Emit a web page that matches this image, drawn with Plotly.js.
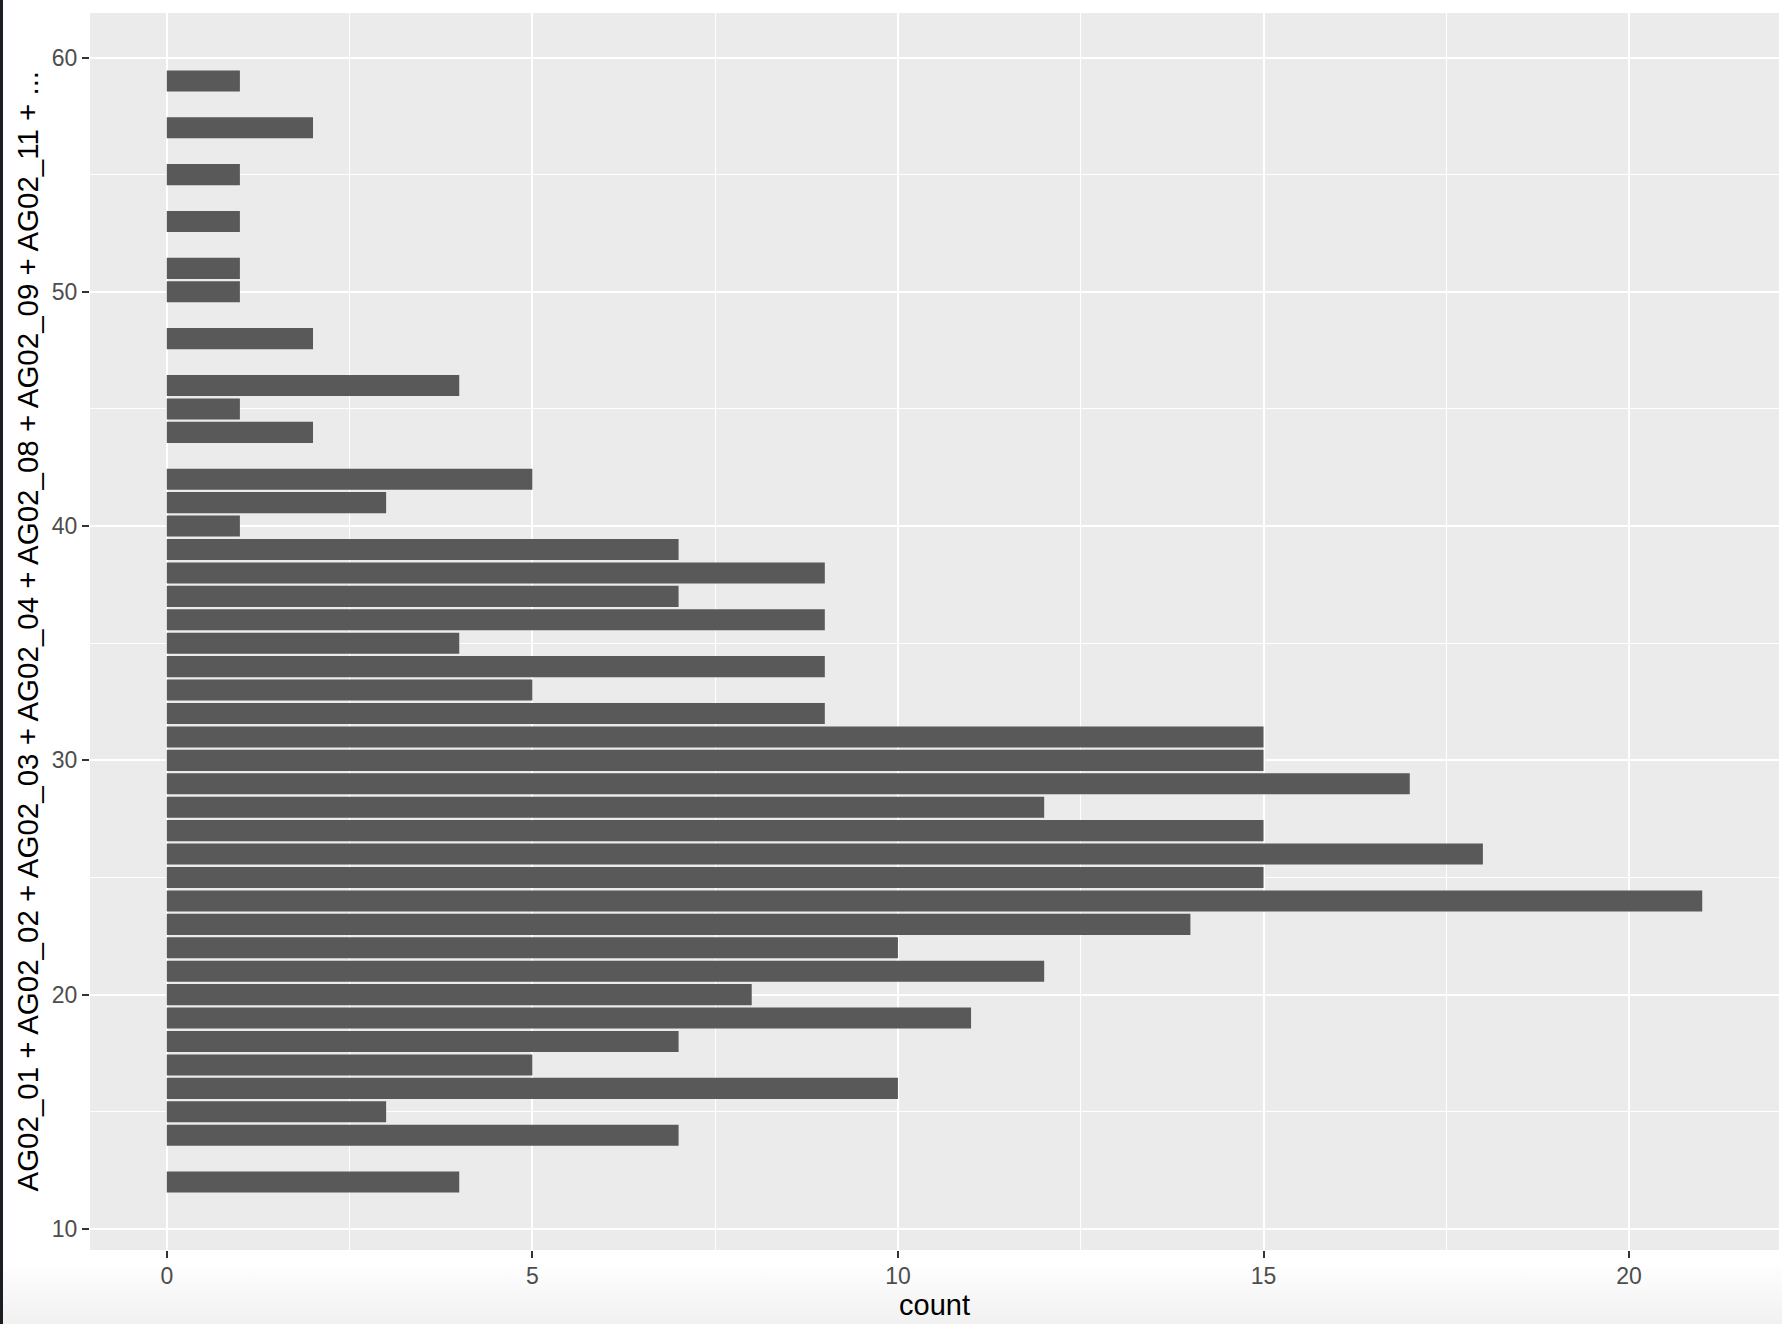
<!DOCTYPE html>
<html>
<head>
<meta charset="utf-8">
<script src="https://cdn.plot.ly/plotly-3.0.1.min.js"></script>
<style>
  html, body { margin: 0; padding: 0; }
  body {
    width: 1782px; height: 1324px; overflow: hidden;
    background: linear-gradient(to bottom, #ffffff 0px, #ffffff 1262px, #f1f1f1 1324px);
    position: relative;
  }
  #edge { position: absolute; left: 0; top: 0; width: 3px; height: 1324px; background: #1b1f24; }
  #chart { position: absolute; left: 0; top: 0; width: 1782px; height: 1324px; }
</style>
</head>
<body>
<div id="chart"></div>
<div id="edge"></div>
<script>
// Scores (y categories) and their counts
const scores = [12, 14, 15, 16, 17, 18, 19, 20, 21, 22, 23, 24, 25, 26, 27, 28, 29, 30, 31,
                32, 33, 34, 35, 36, 37, 38, 39, 40, 41, 42, 44, 45, 46, 48, 50, 51, 53, 55, 57, 59];
const counts = [4, 7, 3, 10, 5, 7, 11, 8, 12, 10, 14, 21, 15, 18, 15, 12, 17, 15, 15,
                9, 5, 9, 4, 9, 7, 9, 7, 1, 3, 5, 2, 1, 4, 2, 1, 1, 1, 1, 2, 1];
const xTicks = [0, 5, 10, 15, 20];
const yTicks = [10, 20, 30, 40, 50, 60];
const xTitle = "count";
const yTitle = "AG02_01 + AG02_02 + AG02_03 + AG02_04 + AG02_08 + AG02_09 + AG02_11 + ...";

const font = "Liberation Sans, Arial, Helvetica, sans-serif";

const trace = {
  type: "bar",
  orientation: "h",
  x: counts,
  y: scores,
  width: 0.9,
  marker: { color: "#595959", line: { width: 0 } },
  hoverinfo: "x+y"
};

const layout = {
  width: 1782,
  height: 1324,
  margin: { l: 90, r: 3, t: 13, b: 74, pad: 0 },
  paper_bgcolor: "rgba(0,0,0,0)",
  plot_bgcolor: "#EBEBEB",
  showlegend: false,
  font: { family: font },
  xaxis: {
    range: [-1.05, 22.05],
    tickvals: xTicks,
    ticktext: xTicks.map(String),
    ticks: "outside",
    ticklen: 7,
    tickwidth: 2,
    tickcolor: "#333333",
    ticklabelstandoff: -2,
    tickfont: { family: font, size: 23, color: "#4D4D4D" },
    showgrid: true,
    gridcolor: "#FFFFFF",
    gridwidth: 2,
    zeroline: false,
    showline: false,
    minor: { tick0: 0, dtick: 2.5, showgrid: true, gridcolor: "#FFFFFF", gridwidth: 1, ticks: "" },
    title: { text: xTitle, font: { family: font, size: 29, color: "#000000" }, standoff: 4 }
  },
  yaxis: {
    range: [9.1, 61.9],
    tickvals: yTicks,
    ticktext: yTicks.map(String),
    ticks: "outside",
    ticklen: 7,
    tickwidth: 2,
    tickcolor: "#333333",
    tickfont: { family: font, size: 23, color: "#4D4D4D" },
    showgrid: true,
    gridcolor: "#FFFFFF",
    gridwidth: 2,
    zeroline: false,
    showline: false,
    minor: { tick0: 0, dtick: 5, showgrid: true, gridcolor: "#FFFFFF", gridwidth: 1, ticks: "" }
  },
  annotations: [{
    text: yTitle,
    xref: "paper", yref: "paper",
    x: (27 - 90) / 1689, y: 0.5,
    xanchor: "center", yanchor: "middle",
    textangle: -90,
    showarrow: false,
    font: { family: font, size: 29.5, color: "#000000" }
  }]
};

Plotly.newPlot("chart", [trace], layout, { displayModeBar: false, staticPlot: true });
</script>
</body>
</html>
